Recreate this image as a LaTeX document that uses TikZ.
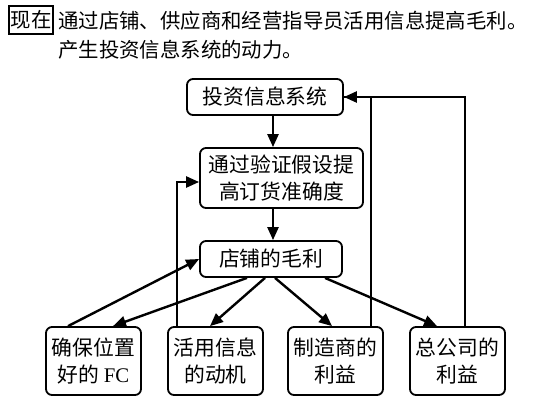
\documentclass[tikz,border=0pt]{standalone}
\usepackage{fontspec}
\setmainfont{Liberation Serif}
\newfontfamily\cjk{Noto Sans CJK SC}
\usetikzlibrary{arrows.meta}
\begin{document}
\begin{tikzpicture}[x=1pt,y=-1pt,
  box/.style={draw, line width=1.8pt, rounded corners=6pt, inner sep=0pt, align=center,
    font=\cjk\fontsize{20.8}{27}\selectfont},
  arr/.style={line width=2.4pt, -{Triangle[length=13pt,width=11pt]}},
  ln/.style={line width=2.4pt},
  head/.style={inner sep=0pt, anchor=west, font=\cjk\fontsize{20.4}{24}\selectfont}]
\useasboundingbox (0,0) rectangle (556,408);
\fill[white] (0,0) rectangle (556,408);
% header
\node[draw, line width=1.2pt, inner sep=0pt, minimum width=44pt, minimum height=28pt,
  font=\cjk\fontsize{20.4}{24}\selectfont] (now) at (31,20) {现在};
\node[head] (l1) at (58,21) {通过店铺、供应商和经营指导员活用信息提高毛利。};
\node[head] (l2) at (58,50) {产生投资信息系统的动力。};
% boxes
\node[box, minimum width=156pt, minimum height=36pt] (top) at (265,97) {投资信息系统};
\node[box, minimum width=163pt, minimum height=60pt] (verify) at (281.5,178) {通过验证假设提\\高订货准确度};
\node[box, minimum width=142pt, minimum height=36pt] (margin) at (271,259) {店铺的毛利};
\node[box, minimum width=95pt, minimum height=68pt] (b1) at (93.5,361) {确保位置\\好的 {\rmfamily FC}};
\node[box, minimum width=95pt, minimum height=68pt] (b2) at (215.5,361) {活用信息\\的动机};
\node[box, minimum width=95pt, minimum height=68pt] (b3) at (335.5,361) {制造商的\\利益};
\node[box, minimum width=95pt, minimum height=68pt] (b4) at (457.5,361) {总公司的\\利益};
\coordinate (cx) at (273,0);
% connectors
\draw[arr] (top.south -| cx) -- (verify.north -| cx);
\draw[arr] (verify.south -| cx) -- (margin.north -| cx);
\draw[arr] ([xshift=-25.5]b1.north) -- (margin.west);
\draw[arr] ([xshift=-24]margin.south) -- ([xshift=19.5]b1.north);
\draw[arr] ([xshift=-6]margin.south) -- ([xshift=-5.5]b2.north);
\draw[arr] ([xshift=4]margin.south) -- ([xshift=-3.5]b3.north);
\draw[arr] ([xshift=54]margin.south) -- ([xshift=-20.5]b4.north);
\draw[arr] ([xshift=-38.5]b2.north) |- ([yshift=-4]verify.west);
\draw[ln] ([xshift=35.5]b3.north) |- (top.east);
\draw[arr] ([xshift=7.5]b4.north) |- (top.east);
\end{tikzpicture}
\end{document}
